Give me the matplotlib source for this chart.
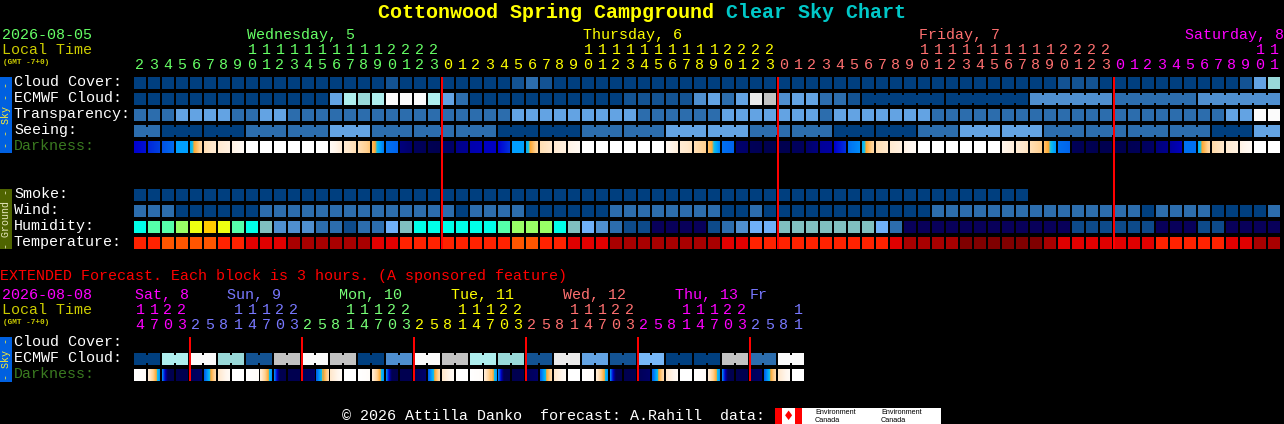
import numpy as np
import matplotlib
matplotlib.use("Agg")
import matplotlib.pyplot as plt
from matplotlib.colors import LinearSegmentedColormap

W, H = 1284, 424
BLOCK = 14
ROW = 16
CELL = 12
MONO = "Liberation Mono"
FS = 10.8

# ---- palettes (index -> colour) ----
BLUES = ["#003f7f", "#135393", "#2c6dad", "#4f8fcf", "#63a3e3", "#77b7f7",
         "#99d9d9", "#aeeeee", "#c2c2c2", "#eaeaea", "#fbfbfb"]
HUMID = ["#08005a", "#0d4a8a", "#2c6dad", "#4f8fcf", "#6fb0f8", "#80bfbf",
         "#00ffe8", "#55ffaa", "#99ff66", "#eeff11", "#ffcc00"]
TEMPS = ["#800000", "#a80000", "#e00000", "#ff2200", "#ff5500"]
DARK_STOPS = [(0.00, "#000050"), (0.08, "#000070"), (0.15, "#0000a0"), (0.22, "#0000d0"),
              (0.30, "#0040e0"), (0.38, "#0070f0"), (0.45, "#00a0ff"), (0.50, "#10c0e8"),
              (0.53, "#ffa830"), (0.62, "#ffd090"), (0.72, "#ffe8cc"), (0.85, "#fff6ec"),
              (1.00, "#ffffff")]

# ---- hourly forecast ----
hours = [2, 3, 4, 5, 6, 7, 8, 9, 10, 11, 12, 13, 14, 15, 16, 17, 18, 19, 20, 21, 22, 23,
         0, 1, 2, 3, 4, 5, 6, 7, 8, 9, 10, 11, 12, 13, 14, 15, 16, 17, 18, 19, 20, 21, 22, 23,
         0, 1, 2, 3, 4, 5, 6, 7, 8, 9, 10, 11, 12, 13, 14, 15, 16, 17, 18, 19, 20, 21, 22, 23,
         0, 1, 2, 3, 4, 5, 6, 7, 8, 9, 10, 11]
cloud_cover = [0, 0, 0, 0, 0, 0, 0, 0, 0, 0,
               0, 0, 0, 0, 0, 0, 0, 0, 1, 0,
               0, 0, 0, 0, 0, 0, 0, 1, 2, 1,
               0, 0, 0, 0, 0, 0, 0, 0, 0, 0,
               0, 0, 0, 0, 0, 0, 0, 0, 0, 0,
               0, 0, 0, 0, 0, 0, 0, 0, 0, 0,
               0, 0, 0, 0, 0, 0, 1, 1, 1, 0,
               0, 0, 0, 0, 0, 0, 0, 0, 0, 1,
               4, 6]
ecmwf_cloud = [0, 0, 0, 0, 0, 0, 0, 0, 0, 0,
               0, 0, 0, 0, 4, 7, 6, 7, 10, 10,
               10, 7, 4, 2, 0, 0, 0, 0, 0, 0,
               0, 0, 0, 0, 0, 1, 1, 1, 1, 1,
               3, 4, 2, 4, 9, 8, 3, 4, 4, 2,
               2, 1, 0, 0, 0, 0, 0, 0, 0, 0,
               0, 0, 0, 0, 3, 3, 3, 3, 3, 3,
               2, 2, 2, 2, 2, 2, 3, 3, 3, 3,
               3, 3]
ecmwf_blocks = [1, 1, 1, 1, 1, 1, 1, 1, 1, 1, 1, 1, 1, 1, 1, 1, 1, 1, 1, 1, 1, 1, 1, 1, 1, 1,
                1, 1, 1, 1, 1, 1, 1, 1, 1, 1, 1, 1, 1, 1, 1, 1, 1, 1, 1, 1, 1, 1, 1, 1, 1, 1,
                6, 6, 6, 6, 6]
transparency = [2, 2, 2, 4, 4, 4, 4, 2, 2, 4,
                4, 2, 2, 2, 2, 2, 2, 2, 2, 2,
                2, 2, 2, 2, 2, 2, 2, 4, 4, 4,
                4, 4, 4, 4, 4, 4, 2, 2, 2, 2,
                2, 2, 4, 4, 4, 4, 4, 4, 4, 2,
                4, 4, 4, 4, 4, 4, 4, 2, 2, 2,
                2, 2, 2, 2, 2, 2, 2, 2, 2, 2,
                2, 2, 2, 2, 2, 2, 2, 2, 4, 4,
                10, 10]
seeing = [2, 2, 0, 0, 0, 0, 0, 0, 2, 2,
          2, 2, 2, 2, 4, 4, 4, 2, 2, 2,
          2, 2, 2, 2, 2, 2, 0, 0, 0, 0,
          0, 0, 2, 2, 2, 2, 2, 2, 4, 4,
          4, 4, 4, 4, 2, 2, 2, 2, 2, 2,
          0, 0, 0, 0, 0, 0, 2, 2, 2, 4,
          4, 4, 4, 4, 4, 2, 2, 2, 2, 2,
          2, 2, 2, 2, 2, 2, 2, 0, 0, 0,
          4, 4]
seeing_blocks = [2, 3, 3, 3, 3, 3, 3, 3, 3, 3, 3, 3, 3, 3, 3, 3, 3, 3, 3, 3, 3, 3, 3, 3, 3, 3, 3, 2]
darkness_start = [.22, .27, .33, .45, .47, .68, .74, .82, 1, 1, 1, 1, 1, 1, .92, .74, .68, .57, .38, .10, .03, .01,
                  .06, .12, .17, .20, .22, .45, .47, .68, .74, .82, 1, 1, 1, 1, 1, 1, .88, .75, .68, .58, .38, .07, .02, 0,
                  0, .03, .07, .14, .22, .38, .47, .68, .74, .82, 1, 1, 1, 1, 1, 1, .85, .75, .68, .58, .38, .02, .01, 0,
                  0, .01, .03, .10, .15, .38, .47, .66, .74, .82, 1, 1]
darkness_end = [.24, .30, .37, .45, .65, .74, .80, .92, 1, 1, 1, 1, 1, 1, .76, .68, .60, .40, .36, .07, .02, 0,
                .06, .13, .18, .20, .28, .45, .65, .72, .80, .90, 1, 1, 1, 1, 1, 1, .78, .70, .62, .42, .36, .06, .01, 0,
                0, .03, .10, .15, .28, .42, .65, .72, .80, .92, 1, 1, 1, 1, 1, 1, .78, .70, .62, .44, .36, .01, 0, 0,
                0, .02, .05, .12, .19, .38, .65, .72, .80, .92, 1, 1]
smoke = [0, 0, 0, 0, 0, 0, 0, 0, 0, 0, 0, 0, 0, 0, 0, 0,
         0, 0, 0, 0, 0, 0, 0, 0, 0, 0, 0, 0, 0, 0, 0, 0,
         0, 0, 0, 0, 0, 0, 0, 0, 0, 0, 0, 0, 0, 0, 0, 0,
         0, 0, 0, 0, 0, 0, 0, 0, 0, 0, 0, 0, 0, 0, 0, 0]
wind = [2, 2, 2, 0, 0, 0, 0, 0, 0, 2,
        2, 2, 2, 2, 2, 2, 2, 2, 2, 2,
        2, 2, 2, 0, 2, 2, 2, 2, 0, 0,
        0, 0, 0, 0, 2, 2, 2, 2, 2, 2,
        2, 2, 0, 0, 2, 0, 0, 0, 0, 0,
        0, 0, 0, 0, 0, 0, 0, 2, 2, 2,
        2, 2, 2, 2, 2, 2, 2, 2, 2, 2,
        2, 2, 0, 2, 2, 2, 2, 0, 0, 0,
        0, 2]
humidity = [6, 7, 7, 8, 9, 10, 9, 7, 6, 5,
            3, 3, 3, 2, 2, 1, 2, 2, 4, 5,
            6, 6, 6, 6, 6, 6, 7, 8, 8, 8,
            6, 5, 4, 3, 2, 1, 1, 0, 0, 0,
            0, 1, 2, 3, 4, 4, 5, 5, 5, 5,
            5, 5, 5, 4, 2, 0, 0, 0, 0, 0,
            0, 0, 0, 0, 0, 0, 0, 1, 1, 1,
            1, 1, 1, 0, 0, 0, 1, 1, 0, 0,
            0, 0]
temperature = [3, 3, 4, 4, 4, 4, 3, 3, 2, 2,
               2, 1, 1, 1, 1, 1, 1, 2, 2, 3,
               3, 3, 3, 3, 3, 3, 3, 4, 4, 3,
               3, 2, 2, 2, 1, 1, 1, 1, 1, 1,
               1, 1, 2, 2, 3, 3, 3, 3, 3, 3,
               3, 3, 3, 3, 2, 1, 1, 1, 1, 0,
               0, 0, 0, 0, 0, 1, 2, 2, 2, 2,
               2, 2, 2, 3, 3, 3, 3, 3, 2, 2,
               1, 1]
main_day_starts = [22, 46, 70]
main_day_colors = ["#66ff66", "#ffff00", "#ff7070", "#ff00ff"]
main_day_labels = ["Wednesday, 5", "Thursday, 6", "Friday, 7", "Saturday, 8"]
main_day_label_cols = [8, 32, 56, 75]

# ---- extended forecast ----
ext_hours = [14, 17, 20, 23, 2, 5, 8, 11, 14, 17, 20, 23, 2, 5, 8, 11, 14, 17, 20, 23, 2, 5, 8, 11,
             14, 17, 20, 23, 2, 5, 8, 11, 14, 17, 20, 23, 2, 5, 8, 11, 14, 17, 20, 23, 2, 5, 8, 11]
ext_cloud = [0, 0, 7, 7, 10, 10, 6, 6, 1, 1, 8, 8, 10, 10, 8, 8, 0, 0, 3, 3, 10, 10, 8, 8,
             7, 7, 6, 6, 1, 1, 9, 9, 4, 4, 1, 1, 5, 5, 0, 0, 0, 0, 8, 8, 2, 2, 10, 10]
ext_blocks = [2, 2, 2, 2, 2, 2, 2, 2, 2, 2, 2, 2, 2, 2, 2, 2, 2, 2, 2, 2, 2, 2, 2, 2]
ext_dark_start = [1, .75, .40, 0, .02, .36, .72, 1, 1, .75, .40, 0, .02, .36, .72, 1,
                  1, .75, .40, 0, .02, .36, .72, 1, 1, .75, .40, 0, .02, .36, .72, 1,
                  1, .75, .40, 0, .02, .36, .72, 1, 1, .75, .40, 0, .02, .36, .72, 1]
ext_dark_end = [.95, .44, -.40, 0, .06, .66, .92, 1, .95, .44, -.40, 0, .06, .66, .92, 1,
                .95, .44, -.40, 0, .06, .66, .92, 1, .95, .44, -.40, 0, .06, .66, .92, 1,
                .95, .44, -.40, 0, .06, .66, .92, 1, .95, .44, -.40, 0, .06, .66, .92, 1]
ext_day_starts = [4, 12, 20, 28, 36, 44]
ext_day_colors = ["#ff00ff", "#7878ff", "#77ff77", "#ffff00", "#ff7070", "#ff00ff", "#7878ff"]
ext_day_labels = ["Sat, 8", "Sun, 9", "Mon, 10", "Tue, 11", "Wed, 12", "Thu, 13", "Fr"]
ext_day_label_xs = [135, 227, 339, 451, 563, 675, 750]

row_labels_sky = ["Cloud Cover:", "ECMWF Cloud:", "Transparency:", "Seeing:", "Darkness:"]
row_labels_ground = ["Smoke:", "Wind:", "Humidity:", "Temperature:"]
row_labels_ext = ["Cloud Cover:", "ECMWF Cloud:", "Darkness:"]

dark_cmap = LinearSegmentedColormap.from_list("darkness", DARK_STOPS, N=1024)

fig = plt.figure(figsize=(W / 100, H / 100), dpi=100, facecolor="black")


def pixel_axes(x0, y0, x1, y1):
    return fig.add_axes([x0 / W, 1 - y1 / H, (x1 - x0) / W, (y1 - y0) / H])


page = pixel_axes(0, 0, W, H)
page.set_xlim(0, W)
page.set_ylim(H, 0)
page.axis("off")


def label(x, baseline, s, color="white", size=FS, weight="normal"):
    page.text(x, baseline, s, color=color, fontsize=size, fontweight=weight, family=MONO,
              ha="left", va="baseline")


def side_label(y, s, color):
    page.text(6, y, s, color=color, fontsize=7.2, family=MONO, ha="center", va="center", rotation=90)


def cells(ax, row, values, palette, blocks=None):
    cols = [i for i, v in enumerate(values)]
    ax.bar(cols, [CELL / ROW] * len(cols), width=CELL / BLOCK, bottom=row, align="edge",
           color=[palette[v] for v in values], linewidth=0, antialiased=False)
    if blocks:
        start = 0
        for size in blocks:
            for c in range(start, start + size - 1):
                ax.bar(c + CELL / BLOCK, 8 / ROW, width=(BLOCK - CELL) / BLOCK, bottom=row + 2 / ROW,
                       align="edge", color=palette[values[c]], linewidth=0, antialiased=False)
            start += size


def dark_cells(ax, row, starts, ends):
    for c, (a, b) in enumerate(zip(starts, ends)):
        ax.imshow(np.clip(np.linspace(a, b, CELL), 0, 1)[None, :], cmap=dark_cmap, vmin=0, vmax=1, aspect="auto",
                  interpolation="nearest", extent=(c, c + CELL / BLOCK, row + CELL / ROW, row))


def hour_digits(ax, hrs, colors, tens_y, ones_y):
    for c, h in enumerate(hrs):
        x = c + (CELL / 2) / BLOCK
        if h >= 10:
            ax.text(x, tens_y, str(h // 10), color=colors[c], fontsize=FS, family=MONO,
                    ha="center", va="baseline")
        ax.text(x, ones_y, str(h % 10), color=colors[c], fontsize=FS, family=MONO,
                ha="center", va="baseline")


# ---- title ----
label(378, 18, "Cottonwood Spring Campground", color="#ffff00", size=14.4, weight="bold")
label(726, 18, "Clear Sky Chart", color="#00c8c8", size=14.4, weight="bold")

# ---- main header ----
label(2, 39, "2026-08-05", color="#66ff66")
label(2, 54, "Local Time", color="#cccc00")
label(3, 64, "(GMT -7+0)", color="#cccc00", size=5.6, weight="bold")

# ---- main panel ----
main = pixel_axes(134, 77, 134 + 82 * BLOCK, 249)
main.set_facecolor("none")
main.axis("off")
cells(main, 0, cloud_cover, BLUES)
cells(main, 1, ecmwf_cloud, BLUES, ecmwf_blocks)
cells(main, 2, transparency, BLUES)
cells(main, 3, seeing, BLUES, seeing_blocks)
dark_cells(main, 4, darkness_start, darkness_end)
cells(main, 7, smoke, BLUES)
cells(main, 8, wind, BLUES)
cells(main, 9, humidity, HUMID)
cells(main, 10, temperature, TEMPS)
main.bar(main_day_starts, 10.75, width=2 / BLOCK, bottom=0, align="center", color="#ff0000",
         linewidth=0, antialiased=False, zorder=5)
main.set_xlim(0, 82)
main.set_ylim(10.75, 0)

main_colors = []
day = 0
for c in range(len(hours)):
    if day < len(main_day_starts) and c >= main_day_starts[day]:
        day += 1
    main_colors.append(main_day_colors[day])
hour_digits(main, hours, main_colors, (54 - 77) / ROW, (69 - 77) / ROW)
for col, s, colr in zip(main_day_label_cols, main_day_labels, main_day_colors):
    main.text(col + 1 / BLOCK, (39 - 77) / ROW, s, color=colr, fontsize=FS, family=MONO,
              ha="left", va="baseline")

for i, s in enumerate(row_labels_sky):
    label(14, 86 + i * ROW, s, color="#3a7a20" if s == "Darkness:" else "white")
for i, s in enumerate(row_labels_ground):
    label(14, 198 + i * ROW, s)

page.add_patch(plt.Rectangle((0, 77), 12, 76, color="#0060e0", lw=0))
side_label(115, "- - Sky - -", "#ffee33")
page.add_patch(plt.Rectangle((0, 189), 12, 60, color="#4f6400", lw=0))
side_label(219, "- Ground -", "#e8e8c0")

# ---- extended ----
label(0, 280, "EXTENDED Forecast. Each block is 3 hours. (A sponsored feature)", color="#ff0000")
label(2, 299, "2026-08-08", color="#ff00ff")
label(2, 314, "Local Time", color="#cccc00")
label(3, 324, "(GMT -7+0)", color="#cccc00", size=5.6, weight="bold")
for x, s, colr in zip(ext_day_label_xs, ext_day_labels, ext_day_colors):
    label(x, 299, s, color=colr)

ext = pixel_axes(134, 337, 134 + 48 * BLOCK, 381)
ext.set_facecolor("none")
ext.axis("off")
cells(ext, 1, ext_cloud, BLUES, ext_blocks)
dark_cells(ext, 2, ext_dark_start, ext_dark_end)
ext.bar(ext_day_starts, 2.75, width=2 / BLOCK, bottom=0, align="center", color="#ff0000",
        linewidth=0, antialiased=False, zorder=5)
ext.set_xlim(0, 48)
ext.set_ylim(2.75, 0)

ext_colors = []
day = 0
for c in range(len(ext_hours)):
    if day < len(ext_day_starts) and c >= ext_day_starts[day]:
        day += 1
    ext_colors.append(ext_day_colors[day])
hour_digits(ext, ext_hours, ext_colors, (314 - 337) / ROW, (329 - 337) / ROW)

for i, s in enumerate(row_labels_ext):
    label(14, 346 + i * ROW, s, color="#3a7a20" if s == "Darkness:" else "white")
page.add_patch(plt.Rectangle((0, 337), 12, 45, color="#0060e0", lw=0))
side_label(359.5, "- Sky -", "#ffee33")

# ---- footer ----
label(342, 420, "© 2026 Attilla Danko  forecast: A.Rahill  data:", color="white")
page.add_patch(plt.Rectangle((775, 408), 166, 16, color="white", lw=0))
page.add_patch(plt.Rectangle((775, 408), 7, 16, color="#ff0000", lw=0))
page.add_patch(plt.Rectangle((795, 408), 7, 16, color="#ff0000", lw=0))
page.text(788.5, 416, "\u2666", color="#ff0000", fontsize=9, ha="center", va="center", family="DejaVu Sans")
for x in (815, 881):
    page.text(x, 412.5, "Environment", color="black", fontsize=5.2, family="Liberation Sans", ha="left", va="center")
    page.text(x, 420.5, "Canada", color="black", fontsize=5.2, family="Liberation Sans", ha="left", va="center")

fig.savefig("out.png", dpi=100, facecolor="black")
